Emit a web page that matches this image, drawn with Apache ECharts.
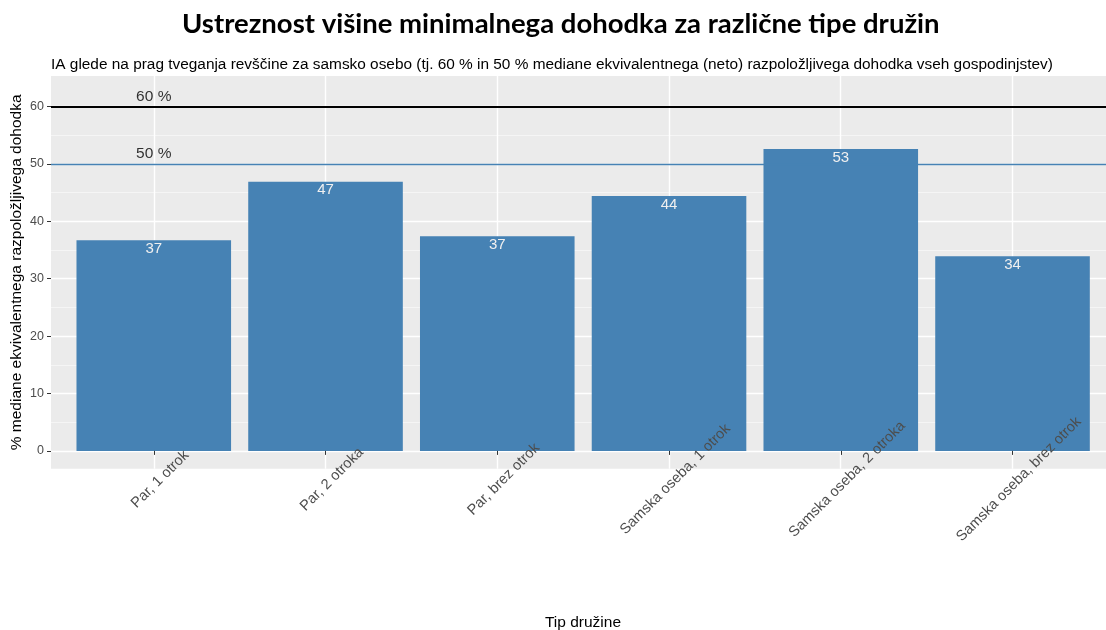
<!DOCTYPE html>
<html>
<head>
<meta charset="utf-8">
<script src="https://cdn.jsdelivr.net/npm/echarts@6/dist/echarts.min.js"></script>
<style>html,body{margin:0;padding:0;background:#fff}#c{width:1106px;height:630px}</style>
</head>
<body>
<div id="c"></div>
<script>
const titleText = 'Ustreznost višine minimalnega dohodka za različne tipe družin';
const subtitleText = 'IA glede na prag tveganja revščine za samsko osebo (tj. 60 % in 50 % mediane ekvivalentnega (neto) razpoložljivega dohodka vseh gospodinjstev)';
const xTitle = 'Tip družine';
const yTitle = '% mediane ekvivalentnega razpoložljivega dohodka';
const categories = ['Par, 1 otrok', 'Par, 2 otroka', 'Par, brez otrok', 'Samska oseba, 1 otrok', 'Samska oseba, 2 otroka', 'Samska oseba, brez otrok'];
const values = [36.7, 46.9, 37.4, 44.4, 52.6, 33.9];
const refValues = [60, 50];
const refLabels = ['60 %', '50 %'];
const yTicks = [0, 10, 20, 30, 40, 50, 60];
const yMinorTicks = [5, 15, 25, 35, 45, 55];

const catPositions = categories.map((_, i) => i + 1);
const Y_MIN = -3.1, Y_MAX = 65.3;
const FONT = '"Liberation Sans", Arial, sans-serif';

const chart = echarts.init(document.getElementById('c'), null, {renderer: 'canvas'});
chart.setOption({
  animation: false,
  backgroundColor: '#ffffff',
  title: [
    {text: titleText, left: 177, top: 5,
     textStyle: {fontFamily: 'Lato, sans-serif', fontWeight: 'bold', fontSize: 27.5, color: '#000'}},
    {text: subtitleText, left: 46, top: 52,
     textStyle: {fontFamily: FONT, fontWeight: 'normal', fontSize: 15.4, color: '#000'}}
  ],
  grid: [
    {left: 51, right: -9, top: 76, bottom: 161.3, show: true, backgroundColor: '#EBEBEB', borderWidth: 0,
     outerBoundsMode: 'none', containLabel: false},
    {left: 67.9, right: 7.6, top: 76, bottom: 161.3, show: false,
     outerBoundsMode: 'none', containLabel: false}
  ],
  xAxis: [
    {type: 'value', gridIndex: 0, min: 0.4, max: 6.6,
     axisLine: {show: false}, axisLabel: {show: false},
     axisTick: {show: false, customValues: catPositions},
     splitLine: {show: true, lineStyle: {color: '#ffffff', width: 1.4}},
     name: xTitle, nameLocation: 'middle', nameGap: 146, nameMoveOverlap: false,
     nameTextStyle: {fontFamily: FONT, fontSize: 15.5, color: '#000'}},
    {type: 'category', gridIndex: 1, data: categories, z: 10,
     axisLine: {show: false},
     axisTick: {show: true, alignWithLabel: true, length: 4, lineStyle: {color: '#333', width: 1}},
     splitLine: {show: false},
     axisLabel: {rotate: 45, interval: 0, fontFamily: FONT, fontSize: 14.6, color: '#4D4D4D',
       align: 'center', verticalAlign: 'middle', margin: 17, padding: [18, 0, 0, 18]}}
  ],
  yAxis: [
    {type: 'value', gridIndex: 0, min: Y_MIN, max: Y_MAX,
     axisLine: {show: false},
     axisTick: {show: true, length: 4, customValues: yTicks, lineStyle: {color: '#333', width: 1}},
     axisLabel: {customValues: yTicks, margin: 7, fontFamily: FONT, fontSize: 12.5, color: '#4D4D4D'},
     splitLine: {show: true, lineStyle: {color: '#ffffff', width: 1.4}},
     name: yTitle, nameLocation: 'middle', nameGap: 26, nameRotate: 90, nameMoveOverlap: false,
     nameTextStyle: {fontFamily: FONT, fontSize: 15.5, color: '#000'}},
    {type: 'value', gridIndex: 0, min: Y_MIN, max: Y_MAX,
     axisLine: {show: false}, axisLabel: {show: false},
     axisTick: {show: false, customValues: yMinorTicks},
     splitLine: {show: true, lineStyle: {color: '#F7F7F7', width: 0.8}}},
    {type: 'value', gridIndex: 1, min: Y_MIN, max: Y_MAX, show: false,
     splitLine: {show: false}}
  ],
  series: [
    {type: 'line', xAxisIndex: 0, yAxisIndex: 0, data: [], z: 1, silent: true,
     markLine: {symbol: 'none', silent: true, animation: false, label: {show: false},
       lineStyle: {color: '#000', width: 2, type: 'solid'},
       data: [{yAxis: refValues[0]}]}},
    {type: 'line', xAxisIndex: 0, yAxisIndex: 0, data: [], z: 1, silent: true,
     markLine: {symbol: 'none', silent: true, animation: false, label: {show: false},
       lineStyle: {color: '#4682B4', width: 1.3, type: 'solid'},
       data: [{yAxis: refValues[1]}]}},
    {type: 'bar', xAxisIndex: 1, yAxisIndex: 2, data: values, barWidth: '90%', z: 2,
     itemStyle: {color: '#4682B4'},
     label: {show: true, position: 'insideTop', distance: 1, fontFamily: FONT, fontSize: 15,
       color: '#F0F0F0', formatter: p => Math.round(p.value)}},
    {type: 'scatter', xAxisIndex: 1, yAxisIndex: 2, symbolSize: 0, z: 3, silent: true,
     data: refValues.map((v, i) => ({value: [categories[0], v], name: refLabels[i]})),
     label: {show: true, position: 'top', distance: 2, fontFamily: FONT, fontSize: 15.5, color: '#000',
       formatter: p => p.name}}
  ]
});
</script>
</body>
</html>
